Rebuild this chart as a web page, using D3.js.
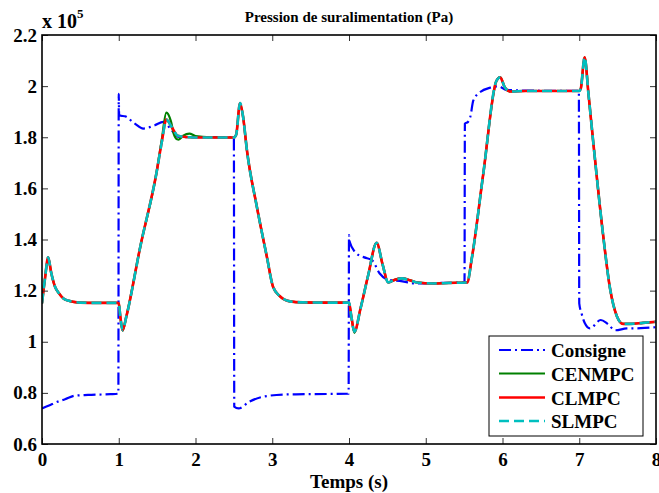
<!DOCTYPE html>
<html><head><meta charset="utf-8">
<script src="https://cdn.jsdelivr.net/npm/d3@7"></script>
<style>
body{margin:0;background:#fff}
text{font-family:"Liberation Serif","Times New Roman",serif;font-weight:bold;fill:#000}
</style>
</head><body>
<svg id="c" width="659" height="493"></svg>
<script>
// values in units of 1e5 Pa
const time = [0,0.04,0.08,0.12,0.17,0.22,0.28,0.35,0.41,0.5,0.7,0.98,1.0,1.02,1.05,1.1,1.28,1.49,1.56,1.62,1.68,1.72,1.76,1.78,1.84,1.92,2.0,2.2,2.5,2.53,2.58,2.62,2.67,2.8,2.93,3.01,3.1,3.23,3.4,3.7,4.0,4.03,4.07,4.15,4.25,4.36,4.44,4.51,4.6,4.69,4.8,4.88,5.1,5.3,5.54,5.6,5.75,5.92,5.97,6.03,6.1,6.3,6.7,7.0,7.02,7.07,7.12,7.18,7.31,7.4,7.49,7.57,7.65,7.83,8.0];
const clmpc = [1.15,1.25,1.33,1.27,1.215,1.19,1.169,1.16,1.156,1.153,1.152,1.152,1.15,1.10,1.045,1.10,1.371,1.658,1.78,1.869,1.845,1.825,1.807,1.805,1.802,1.800,1.799,1.799,1.799,1.81,1.934,1.88,1.749,1.527,1.332,1.215,1.178,1.158,1.154,1.153,1.153,1.10,1.039,1.13,1.26,1.387,1.30,1.232,1.243,1.248,1.24,1.232,1.228,1.230,1.232,1.326,1.658,2.02,2.035,1.995,1.979,1.981,1.981,1.981,1.99,2.113,1.97,1.788,1.42,1.21,1.10,1.07,1.07,1.074,1.078];
const slmpc = [1.15,1.25,1.33,1.27,1.215,1.19,1.169,1.16,1.156,1.153,1.152,1.152,1.15,1.10,1.045,1.10,1.371,1.658,1.78,1.869,1.845,1.825,1.807,1.805,1.802,1.800,1.799,1.799,1.799,1.81,1.934,1.88,1.749,1.527,1.332,1.215,1.178,1.158,1.154,1.153,1.153,1.10,1.039,1.13,1.26,1.387,1.30,1.232,1.243,1.248,1.24,1.232,1.228,1.230,1.232,1.326,1.658,2.02,2.035,1.995,1.979,1.981,1.981,1.981,1.99,2.113,1.97,1.788,1.42,1.21,1.10,1.07,1.07,1.074,1.078];
const cenmpc = [1.15,1.25,1.33,1.27,1.215,1.19,1.169,1.16,1.156,1.153,1.152,1.152,1.15,1.10,1.043,1.10,1.371,1.658,1.79,1.896,1.862,1.81,1.792,1.791,1.806,1.814,1.805,1.800,1.799,1.81,1.934,1.88,1.749,1.527,1.332,1.215,1.178,1.158,1.154,1.153,1.153,1.10,1.035,1.13,1.26,1.387,1.30,1.232,1.243,1.248,1.24,1.232,1.228,1.230,1.232,1.326,1.658,2.02,2.035,1.995,1.979,1.981,1.981,1.981,1.99,2.113,1.97,1.788,1.42,1.21,1.10,1.07,1.07,1.074,1.078];
const consigneTime = [0,0.1,0.2,0.3,0.43,0.6,0.89,0.995,1.0,1.005,1.03,1.08,1.21,1.32,1.47,1.58,1.69,1.78,1.9,2.2,2.5,2.505,2.56,2.7,2.88,3.19,3.5,3.995,4.0,4.01,4.08,4.12,4.2,4.3,4.4,4.53,4.66,4.88,5.2,5.505,5.51,5.55,5.58,5.62,5.71,5.84,5.95,6.05,6.5,6.995,7.0,7.03,7.07,7.14,7.28,7.37,7.47,7.62,7.8,8.0];
const consigne = [0.739,0.752,0.765,0.775,0.789,0.792,0.795,0.797,1.97,1.886,1.884,1.882,1.853,1.834,1.847,1.86,1.827,1.801,1.80,1.80,1.80,0.746,0.739,0.765,0.785,0.794,0.795,0.797,1.417,1.39,1.351,1.34,1.33,1.319,1.267,1.241,1.238,1.228,1.23,1.232,1.853,1.86,1.879,1.944,1.977,1.994,1.999,1.985,1.982,1.982,1.15,1.111,1.074,1.052,1.085,1.07,1.045,1.052,1.053,1.057];

const xTicks = [0,1,2,3,4,5,6,7,8];
const yTicks = [0.6,0.8,1.0,1.2,1.4,1.6,1.8,2.0,2.2];
const yTickLabels = ["0.6","0.8","1","1.2","1.4","1.6","1.8","2","2.2"];
const seriesNames = ["Consigne","CENMPC","CLMPC","SLMPC"];
const seriesColors = ["#0000ff","#008000","#ff0000","#00bfbf"];
const seriesDash = ["12,4,2,4",null,null,"10,5"];
const seriesWidth = [2.2,2.2,2.6,2.6];

const svg = d3.select("#c");
const L=42,R=656,T=35,B=444;
const x = d3.scaleLinear().domain([0,8]).range([L,R]);
const y = d3.scaleLinear().domain([0.6,2.2]).range([B,T]);

svg.append("defs").append("clipPath").attr("id","clip")
  .append("rect").attr("x",L).attr("y",T).attr("width",R-L).attr("height",B-T);

const line = (ts) => d3.line().x((d,i)=>x(ts[i])).y(d=>y(d)).curve(d3.curveMonotoneX);

const plot = svg.append("g").attr("clip-path","url(#clip)");
const data = [[consigneTime,consigne],[time,cenmpc],[time,clmpc],[time,slmpc]];
data.forEach(([ts,vs],k)=>{
  plot.append("path").attr("d",line(ts)(vs)).attr("fill","none")
    .attr("stroke",seriesColors[k]).attr("stroke-width",seriesWidth[k])
    .attr("stroke-dasharray",seriesDash[k]).attr("stroke-linejoin","round");
});

// axes
const fs = 19;
const gx = svg.append("g").attr("transform",`translate(0,${B})`)
  .call(d3.axisBottom(x).tickValues(xTicks).tickSize(-6).tickPadding(9).tickFormat(d3.format("d")));
const gy = svg.append("g").attr("transform",`translate(${L},0)`)
  .call(d3.axisLeft(y).tickValues(yTicks).tickSize(-6).tickPadding(5).tickFormat((d,i)=>yTickLabels[i]));
const gt = svg.append("g").attr("transform",`translate(0,${T})`)
  .call(d3.axisTop(x).tickValues(xTicks).tickSize(-6).tickFormat(""));
const gr = svg.append("g").attr("transform",`translate(${R},0)`)
  .call(d3.axisRight(y).tickValues(yTicks).tickSize(-6).tickFormat(""));
[gx,gy,gt,gr].forEach(g=>{
  g.select(".domain").remove();
  g.selectAll(".tick line").attr("stroke","#333").attr("stroke-width",1);
  g.selectAll("text").attr("font-size",fs).attr("font-family",null).style("font-family",'"Liberation Serif",serif').style("font-weight","bold");
});
svg.append("rect").attr("x",L).attr("y",T).attr("width",R-L).attr("height",B-T)
  .attr("fill","none").attr("stroke","#000").attr("stroke-width",1.6);

// title & labels
svg.append("text").attr("x",(L+R)/2).attr("y",22).attr("text-anchor","middle")
  .attr("font-size",15).text("Pression de suralimentation (Pa)");
svg.append("text").attr("x",(L+R)/2).attr("y",488).attr("text-anchor","middle")
  .attr("font-size",fs).text("Temps (s)");
const ex = svg.append("text").attr("x",L).attr("y",28).attr("font-size",20);
ex.append("tspan").text("x 10");
ex.append("tspan").attr("dy",-10).attr("font-size",13).text("5");

// legend
const lg = svg.append("g");
lg.append("rect").attr("x",489).attr("y",336).attr("width",154).attr("height",100)
  .attr("fill","#fff").attr("stroke","#000").attr("stroke-width",1);
const ly = [350,373.5,397.5,421];
seriesNames.forEach((n,k)=>{
  lg.append("line").attr("x1",499).attr("x2",545).attr("y1",ly[k]).attr("y2",ly[k])
    .attr("stroke",seriesColors[k]).attr("stroke-width",seriesWidth[k]).attr("stroke-dasharray",seriesDash[k]);
  lg.append("text").attr("x",551).attr("y",ly[k]+7).attr("font-size",fs).text(n);
});
</script>
</body></html>
